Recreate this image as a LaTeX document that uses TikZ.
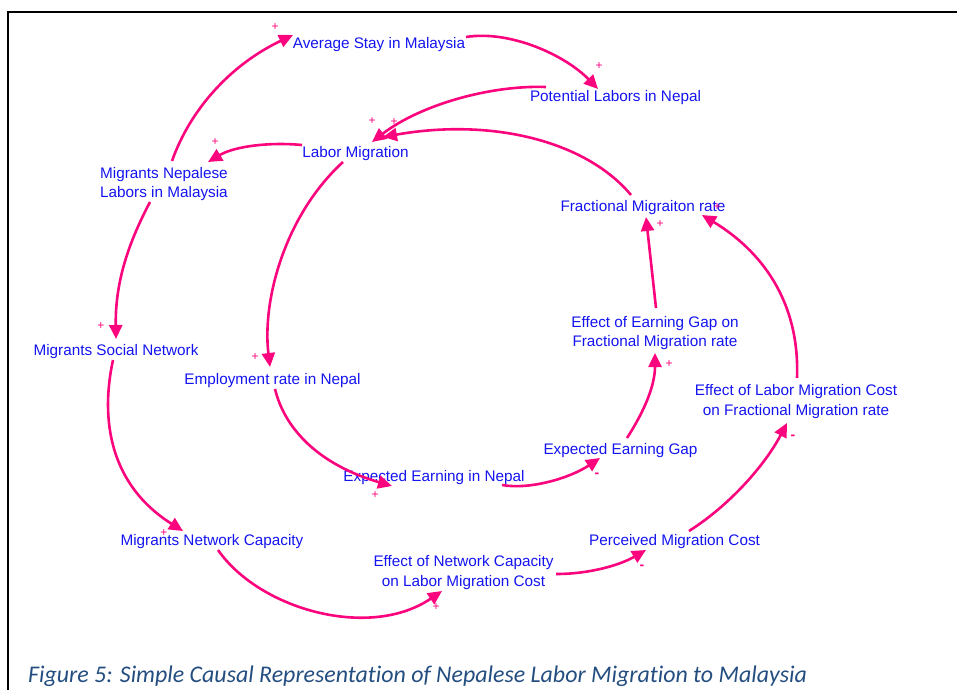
\documentclass[tikz,border=0pt]{standalone}
\usepackage{fontspec}
\setmainfont{Liberation Sans}
\newfontfamily\capfont[Ligatures=NoCommon]{Carlito}
\usetikzlibrary{arrows.meta}
\definecolor{lnk}{RGB}{250,5,125}
\definecolor{txt}{RGB}{20,20,240}
\definecolor{capc}{RGB}{36,78,128}
\begin{document}
\begin{tikzpicture}[x=1pt,y=-1pt,
  lbl/.style={font=\fontsize{15.3}{19.3}\selectfont, text=txt, inner sep=0pt},
  lnkarrow/.style={draw=lnk, line width=2.6pt, -{Triangle[length=14pt,width=13pt]}},
  plussign/.style={font=\fontsize{12}{12}\selectfont, text=lnk, inner sep=0pt},
  minussign/.style={font=\bfseries\fontsize{14}{14}\selectfont, text=lnk, inner sep=0pt},
  framerule/.style={draw=black, line width=2pt}]
\useasboundingbox (0,0) rectangle (957,690);
\draw[framerule] (8,690) -- (8,12) -- (957,12);

% variables
\node[lbl, anchor=base] (avg) at (379,49) {Average Stay in Malaysia};
\node[lbl, anchor=base] (pot) at (615.5,102) {Potential Labors in Nepal};
\node[lbl, anchor=base] (lab) at (355.5,157) {Labor Migration};
\node[lbl, align=center] (mnl) at (164,184) {Migrants Nepalese\\Labors in Malaysia};
\node[lbl, anchor=base] (frac) at (643,211) {Fractional Migraiton rate};
\node[lbl, anchor=base] (msn) at (116,355) {Migrants Social Network};
\node[lbl, anchor=base] (emp) at (272.5,384) {Employment rate in Nepal};
\node[lbl, align=center] (egfm) at (655,333) {Effect of Earning Gap on\\Fractional Migration rate};
\node[lbl, align=center] (elmc) at (796,401.5) {Effect of Labor Migration Cost\\on Fractional Migration rate};
\node[lbl, anchor=base] (eeg) at (620.5,454) {Expected Earning Gap};
\node[lbl, anchor=base] (een) at (434,481.5) {Expected Earning in Nepal};
\node[lbl, anchor=base] (mnc) at (212,545.5) {Migrants Network Capacity};
\node[lbl, align=center] (enc) at (463.5,572.5) {Effect of Network Capacity\\on Labor Migration Cost};
\node[lbl, anchor=base] (pmc) at (674.5,545.5) {Perceived Migration Cost};

% links
\draw[lnkarrow] ([shift={(87,-12)}]avg.base) .. controls (510,30) and (565,55) .. ([shift={(-17.5,-13)}]pot.base);
\draw[lnkarrow] ([shift={(-69.5,-15)}]pot.base) .. controls (490,85) and (420,105) .. ([shift={(16.5,-15)}]lab.base);
\draw[lnkarrow] ([shift={(-12,-16)}]frac.base) .. controls (585,140) and (490,118) .. ([shift={(27.5,-20)}]lab.base);
\draw[lnkarrow] ([shift={(-53.5,-12)}]lab.base) .. controls (270,142) and (235,146) .. ([shift={(44,-22)}]mnl.center);
\draw[lnkarrow] ([shift={(8,-23)}]mnl.center) .. controls (190,110) and (230,65) .. ([shift={(-86,-14)}]avg.base);
\draw[lnkarrow] ([shift={(-12.5,5)}]lab.base) .. controls (285,215) and (262,300) .. ([shift={(-2.5,-17)}]emp.base);
\draw[lnkarrow] ([shift={(-14,18)}]mnl.center) .. controls (130,240) and (115,280) .. ([shift={(0,-16)}]msn.base);
\draw[lnkarrow] ([shift={(-3,5)}]msn.base) .. controls (100,420) and (110,485) .. ([shift={(-29,-14.5)}]mnc.base);
\draw[lnkarrow] ([shift={(2.5,5)}]emp.base) .. controls (285,430) and (320,465) .. ([shift={(-42,4.5)}]een.base);
\draw[lnkarrow] ([shift={(68,3.5)}]een.base) .. controls (530,490) and (570,478) .. ([shift={(-20.5,4)}]eeg.base);
\draw[lnkarrow] ([shift={(6.5,-16)}]eeg.base) .. controls (645,410) and (655,385) .. ([shift={(0,20)}]egfm.center);
\draw[lnkarrow] ([shift={(1,-25)}]egfm.center) -- ([shift={(3,6)}]frac.base);
\draw[lnkarrow] ([shift={(1,-23.5)}]elmc.center) .. controls (800,300) and (760,250) .. ([shift={(59,4)}]frac.base);
\draw[lnkarrow] ([shift={(14.5,-14.5)}]pmc.base) .. controls (730,505) and (765,465) .. ([shift={(-9,21.5)}]elmc.center);
\draw[lnkarrow] ([shift={(92.5,1.5)}]enc.center) .. controls (590,574) and (620,565) .. ([shift={(-28.5,4.5)}]pmc.base);
\draw[lnkarrow] ([shift={(6,4.5)}]mnc.base) .. controls (260,610) and (370,640) .. ([shift={(-21.5,18.5)}]enc.center);

% polarities
\node[plussign] (s1) at (275,27) {+};
\node[plussign] (s2) at (599,66) {+};
\node[plussign] (s3) at (372,121) {+};
\node[plussign] (s4) at (394,122) {+};
\node[plussign] (s5) at (215,142) {+};
\node[plussign] (s6) at (255,357) {+};
\node[plussign] (s7) at (101,326) {+};
\node[plussign] (s8) at (164,533) {+};
\node[plussign] (s9) at (375,495) {+};
\node[minussign] (s10) at (597,475) {-};
\node[plussign] (s11) at (669,364) {+};
\node[plussign] (s12) at (660,224) {+};
\node[plussign] (s13) at (717,207) {+};
\node[minussign] (s14) at (793,437) {-};
\node[minussign] (s15) at (642,567) {-};
\node[plussign] (s16) at (436,607) {+};

% caption
\node[anchor=base west, inner sep=0pt, text=capc, font=\capfont\itshape\fontsize{23.9}{24}\selectfont] (cap) at (28,682) {Figure 5: Simple Causal Representation of Nepalese Labor Migration to Malaysia};
\end{tikzpicture}
\end{document}
